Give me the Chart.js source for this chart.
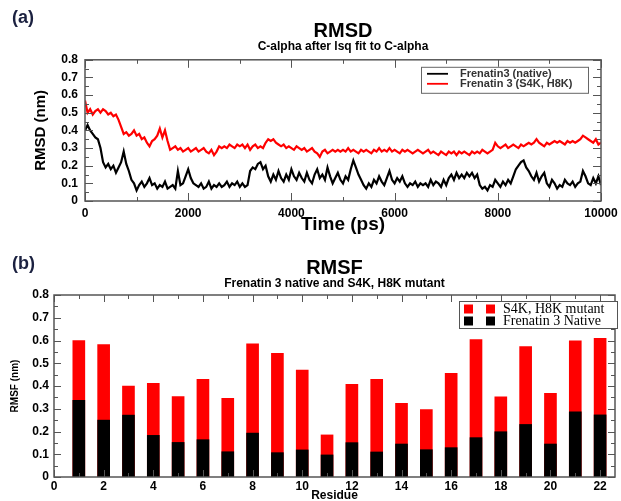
<!DOCTYPE html>
<html>
<head>
<meta charset="utf-8">
<script src="https://cdn.jsdelivr.net/npm/chart.js@4.4.1/dist/chart.umd.min.js"></script>
<style>
  body { margin: 0; background: #fff; }
  #wrap { position: relative; width: 621px; height: 501px; overflow: hidden; }
  canvas { position: absolute; left: 0; }
  #rmsdChart { top: 0; }
  #rmsfChart { top: 250px; }
  .panel { position: absolute; font: bold 18px "Liberation Sans", Arial, sans-serif; color: #1b2140; }
</style>
</head>
<body>
<div id="wrap">
  <canvas id="rmsdChart" width="621" height="240"></canvas>
  <canvas id="rmsfChart" width="621" height="251"></canvas>
  <div class="panel" style="left:12px; top:7px;">(a)</div>
  <div class="panel" style="left:12px; top:253px;">(b)</div>
</div>
<script>
// --- (a) RMSD, sampled every 50 ps from 0 to 10000 ps
const STEP_PS = 50;
const rmsdNative = [
  0.40,0.43,0.40,0.38,0.36,0.35,0.30,0.22,0.19,0.21,
  0.18,0.20,0.16,0.19,0.22,0.28,0.21,0.17,0.12,0.10,
  0.06,0.09,0.11,0.08,0.10,0.13,0.09,0.10,0.07,0.09,
  0.08,0.11,0.07,0.08,0.09,0.07,0.17,0.09,0.10,0.14,
  0.18,0.13,0.10,0.09,0.08,0.10,0.07,0.08,0.11,0.07,
  0.09,0.08,0.10,0.08,0.09,0.11,0.08,0.10,0.09,0.11,
  0.08,0.10,0.08,0.09,0.17,0.19,0.18,0.21,0.22,0.18,
  0.20,0.14,0.11,0.15,0.12,0.17,0.13,0.11,0.15,0.12,
  0.18,0.14,0.12,0.16,0.13,0.11,0.16,0.12,0.10,0.15,
  0.18,0.13,0.15,0.12,0.19,0.14,0.10,0.13,0.16,0.12,
  0.10,0.14,0.12,0.18,0.23,0.19,0.15,0.12,0.09,0.07,
  0.10,0.08,0.12,0.10,0.14,0.11,0.09,0.13,0.17,0.12,
  0.10,0.13,0.11,0.14,0.10,0.08,0.10,0.09,0.11,0.08,
  0.10,0.09,0.10,0.08,0.12,0.09,0.11,0.10,0.08,0.12,
  0.09,0.13,0.15,0.12,0.16,0.13,0.15,0.13,0.16,0.14,
  0.16,0.13,0.15,0.09,0.07,0.08,0.06,0.09,0.08,0.12,
  0.10,0.08,0.11,0.09,0.12,0.10,0.14,0.18,0.20,0.22,
  0.23,0.19,0.17,0.14,0.12,0.16,0.11,0.14,0.16,0.10,
  0.08,0.12,0.10,0.07,0.09,0.08,0.12,0.10,0.09,0.11,
  0.08,0.10,0.11,0.17,0.14,0.10,0.09,0.13,0.10,0.14,
  0.09
];
const rmsdMutant = [
  0.57,0.50,0.52,0.49,0.51,0.52,0.50,0.52,0.51,0.49,
  0.50,0.48,0.49,0.46,0.42,0.38,0.39,0.37,0.38,0.40,
  0.37,0.38,0.35,0.36,0.33,0.31,0.34,0.35,0.37,0.41,
  0.36,0.40,0.34,0.29,0.30,0.31,0.29,0.30,0.28,0.29,
  0.30,0.28,0.29,0.30,0.28,0.29,0.30,0.28,0.27,0.29,
  0.26,0.28,0.31,0.30,0.31,0.30,0.32,0.31,0.30,0.32,
  0.31,0.32,0.30,0.32,0.29,0.31,0.32,0.30,0.31,0.30,
  0.33,0.35,0.34,0.35,0.33,0.32,0.31,0.32,0.30,0.31,
  0.30,0.29,0.31,0.30,0.29,0.30,0.28,0.29,0.30,0.28,
  0.27,0.25,0.28,0.29,0.27,0.28,0.29,0.28,0.29,0.28,
  0.29,0.28,0.30,0.28,0.29,0.28,0.27,0.29,0.28,0.29,
  0.28,0.27,0.29,0.28,0.30,0.28,0.29,0.28,0.30,0.28,
  0.29,0.28,0.27,0.29,0.28,0.29,0.28,0.27,0.28,0.29,
  0.28,0.27,0.28,0.29,0.27,0.28,0.27,0.26,0.28,0.27,
  0.26,0.28,0.27,0.28,0.26,0.28,0.27,0.28,0.27,0.26,
  0.28,0.27,0.28,0.27,0.29,0.28,0.27,0.28,0.29,0.33,
  0.31,0.30,0.31,0.32,0.30,0.31,0.32,0.31,0.30,0.32,
  0.31,0.32,0.33,0.32,0.33,0.35,0.33,0.32,0.31,0.33,
  0.32,0.33,0.34,0.33,0.34,0.33,0.32,0.34,0.33,0.34,
  0.33,0.34,0.35,0.37,0.36,0.35,0.34,0.33,0.35,0.32,
  0.33
];

// --- (b) RMSF per residue
const residues = [1,2,3,4,5,6,7,8,9,10,11,12,13,14,15,16,17,18,19,20,21,22];
const rmsfMutant = [0.600,0.582,0.400,0.412,0.353,0.429,0.346,0.585,0.544,0.470,0.185,
                    0.407,0.429,0.324,0.296,0.456,0.604,0.352,0.573,0.368,0.599,0.610];
const rmsfNative = [0.337,0.250,0.272,0.183,0.152,0.164,0.111,0.193,0.107,0.119,0.097,
                    0.151,0.110,0.145,0.120,0.129,0.173,0.199,0.231,0.145,0.287,0.273];

Chart.defaults.font.family = '"Liberation Sans", Arial, sans-serif';
Chart.defaults.color = '#000';

// box frame with inward major/minor ticks on all four sides
const frameTicks = {
  id: 'frameTicks',
  afterDraw(chart, args, o) {
    const { ctx, chartArea: a, scales: { x, y } } = chart;
    ctx.save();
    ctx.strokeStyle = o.color;
    ctx.lineWidth = 1;
    ctx.beginPath();
    for (let v = x.min; v <= x.max + 1e-9; v += o.xMinor) {
      const px = Math.round(x.getPixelForValue(v)) + 0.5;
      const len = Math.abs(v / o.xMajor - Math.round(v / o.xMajor)) < 1e-6 ? o.major : o.minor;
      ctx.moveTo(px, a.bottom); ctx.lineTo(px, a.bottom - len);
      ctx.moveTo(px, a.top); ctx.lineTo(px, a.top + len);
    }
    for (let v = y.min; v <= y.max + 1e-9; v += o.yMinor) {
      const py = Math.round(y.getPixelForValue(v)) + 0.5;
      const len = Math.abs(v / o.yMajor - Math.round(v / o.yMajor)) < 1e-6 ? o.major : o.minor;
      ctx.moveTo(a.left, py); ctx.lineTo(a.left + len, py);
      ctx.moveTo(a.right, py); ctx.lineTo(a.right - len, py);
    }
    ctx.stroke();
    ctx.lineWidth = 1.5;
    ctx.strokeRect(a.left, a.top, a.right - a.left, a.bottom - a.top);
    ctx.restore();
  }
};

// boxed legend inside the plot area
const boxLegend = {
  id: 'boxLegend',
  afterDraw(chart, args, o) {
    const { ctx, chartArea: a } = chart;
    const x0 = a.right - o.right - o.width, y0 = a.top + o.top;
    ctx.save();
    ctx.fillStyle = '#fff';
    ctx.fillRect(x0, y0, o.width, o.height);
    ctx.strokeStyle = o.border;
    ctx.lineWidth = 1;
    ctx.strokeRect(x0 + 0.5, y0 + 0.5, o.width, o.height);
    ctx.font = o.font;
    ctx.textBaseline = 'middle';
    o.order.forEach((di, row) => {
      const ds = chart.data.datasets[di];
      const cy = y0 + o.firstRow + row * o.rowGap;
      if (o.kind === 'line') {
        ctx.strokeStyle = ds.borderColor;
        ctx.lineWidth = 1.8;
        ctx.beginPath();
        ctx.moveTo(x0 + o.sampleFrom, cy);
        ctx.lineTo(x0 + o.sampleTo, cy);
        ctx.stroke();
      } else {
        ctx.fillStyle = ds.backgroundColor;
        o.squares.forEach(sx => ctx.fillRect(x0 + sx, cy - o.size / 2, o.size, o.size));
      }
      ctx.fillStyle = o.color;
      ctx.fillText(ds.label, x0 + o.textX, cy);
    });
    ctx.restore();
  }
};

function fixAxis(size, horizontal) {
  return (s) => {
    if (horizontal) s.height = size; else s.width = size;
    s.paddingLeft = 0; s.paddingRight = 0; s.paddingTop = 0; s.paddingBottom = 0;
  };
}

new Chart(document.getElementById('rmsdChart'), {
  type: 'line',
  data: {
    datasets: [
      {
        label: 'Frenatin3 (native)',
        data: rmsdNative.map((v, i) => ({ x: i * STEP_PS, y: v })),
        borderColor: '#000000',
        borderWidth: 2.2,
        pointRadius: 0
      },
      {
        label: 'Frenatin 3 (S4K, H8K)',
        data: rmsdMutant.map((v, i) => ({ x: i * STEP_PS, y: v })),
        borderColor: '#ff0000',
        borderWidth: 2.2,
        pointRadius: 0
      }
    ]
  },
  options: {
    responsive: false,
    animation: false,
    devicePixelRatio: 1,
    layout: { padding: { left: 0, right: 20, top: 0, bottom: 0 } },
    scales: {
      x: {
        type: 'linear', min: 0, max: 10000,
        afterFit: fixAxis(39, true),
        grid: { display: false, drawTicks: false },
        border: { display: false },
        ticks: { stepSize: 2000, padding: 5, maxRotation: 0, font: { size: 12, weight: 'bold' },
                 callback: v => String(v) },
        title: { display: true, text: 'Time (ps)', font: { size: 19, weight: 'bold' },
                 padding: { top: 0, bottom: 4 } }
      },
      y: {
        min: 0, max: 0.8,
        afterFit: fixAxis(85, false),
        grid: { display: false, drawTicks: false },
        border: { display: false },
        ticks: { stepSize: 0.1, padding: 7, font: { size: 12, weight: 'bold' } },
        title: { display: true, text: 'RMSD (nm)', font: { size: 15, weight: 'bold' },
                 padding: { top: 32, bottom: 0 } }
      }
    },
    plugins: {
      legend: { display: false },
      tooltip: { enabled: false },
      title: { display: true, text: 'RMSD', fullSize: false,
               font: { size: 20, weight: 'bold', lineHeight: 1 }, padding: { top: 21, bottom: 0 } },
      subtitle: { display: true, text: 'C-alpha after lsq fit to C-alpha', fullSize: false, color: '#000',
                  font: { size: 12, weight: 'bold', lineHeight: 0.9 }, padding: { top: 0, bottom: 8 } },
      frameTicks: { color: '#555', xMajor: 2000, xMinor: 1000, yMajor: 0.1, yMinor: 0.05, major: 8, minor: 4 },
      boxLegend: { kind: 'line', order: [0, 1], right: 13, top: 7, width: 167, height: 26,
                   firstRow: 7, rowGap: 10, sampleFrom: 6, sampleTo: 27, textX: 39,
                   font: 'bold 11px "Liberation Sans", Arial, sans-serif', color: '#333', border: '#666' }
    }
  },
  plugins: [frameTicks, boxLegend]
});

new Chart(document.getElementById('rmsfChart'), {
  type: 'bar',
  data: {
    datasets: [
      {
        label: 'S4K, H8K mutant',
        data: residues.map((r, i) => ({ x: r, y: rmsfMutant[i] })),
        backgroundColor: '#ff0000',
        order: 1
      },
      {
        label: 'Frenatin 3 Native',
        data: residues.map((r, i) => ({ x: r, y: rmsfNative[i] })),
        backgroundColor: '#000000',
        order: 0
      }
    ]
  },
  options: {
    responsive: false,
    animation: false,
    devicePixelRatio: 1,
    grouped: false,
    barThickness: 12,
    layout: { padding: { left: 0, right: 6, top: 0, bottom: 0 } },
    scales: {
      x: {
        type: 'linear', min: 0, max: 22.6, offset: false,
        afterFit: fixAxis(24, true),
        grid: { display: false, drawTicks: false, offset: false },
        border: { display: false },
        ticks: { stepSize: 2, includeBounds: false, padding: 2, maxRotation: 0,
                 font: { size: 12, weight: 'bold' } },
        title: { display: true, text: 'Residue', font: { size: 12, weight: 'bold', lineHeight: 1 },
                 padding: { top: 0, bottom: -1 } }
      },
      y: {
        min: 0, max: 0.8,
        afterFit: fixAxis(54, false),
        grid: { display: false, drawTicks: false },
        border: { display: false },
        ticks: { stepSize: 0.1, padding: 5, font: { size: 12, weight: 'bold' } },
        title: { display: true, text: 'RMSF (nm)', font: { size: 10, weight: 'bold' },
                 padding: { top: 9, bottom: 0 } }
      }
    },
    plugins: {
      legend: { display: false },
      tooltip: { enabled: false },
      title: { display: true, text: 'RMSF', fullSize: false,
               font: { size: 20, weight: 'bold', lineHeight: 1 }, padding: { top: 8.5, bottom: 0 } },
      subtitle: { display: true, text: 'Frenatin 3 native and S4K, H8K mutant', fullSize: false, color: '#000',
                  font: { size: 12, weight: 'bold', lineHeight: 0.9 }, padding: { top: 0, bottom: 5.7 } },
      frameTicks: { color: '#555', xMajor: 2, xMinor: 1, yMajor: 0.1, yMinor: 0.05, major: 7, minor: 4 },
      boxLegend: { kind: 'square', order: [0, 1], right: -2, top: 6, width: 158, height: 27,
                   firstRow: 8, rowGap: 12, squares: [5, 27], size: 9, textX: 44,
                   font: '14px "Liberation Serif", "Times New Roman", serif', color: '#000', border: '#555' }
    }
  },
  plugins: [frameTicks, boxLegend]
});
</script>
</body>
</html>
